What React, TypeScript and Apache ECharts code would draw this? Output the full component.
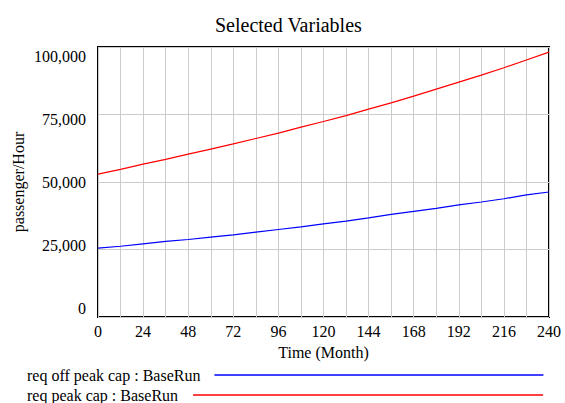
import React, { useEffect, useRef } from "react";
import * as echarts from "echarts";

const months = [0, 12, 24, 36, 48, 60, 72, 84, 96, 108, 120, 132, 144, 156, 168, 180, 192, 204, 216, 228, 240];
const reqOffPeakCap = [25500, 26200, 27100, 28000, 28700, 29600, 30400, 31400, 32400, 33400, 34500, 35500, 36700, 38000, 39100, 40200, 41500, 42600, 43800, 45200, 46300];
const reqPeakCap = [52900, 54700, 56600, 58400, 60300, 62200, 64100, 66100, 68100, 70300, 72400, 74600, 77000, 79300, 81800, 84400, 87000, 89600, 92300, 95200, 98100];
const yTickValues = [0, 25000, 50000, 75000, 100000];
const seriesNames = ["req off peak cap : BaseRun", "req peak cap : BaseRun"];

const FONT = "Liberation Serif, Times New Roman, serif";

export default function App() {
  const ref = useRef<HTMLDivElement>(null);
  useEffect(() => {
    if (!ref.current) return;
    const chart = echarts.init(ref.current, null, { renderer: "svg" });
    const fmt = (v: number) => v.toLocaleString("en-US");
    chart.setOption({
      animation: false,
      backgroundColor: "#fff",
      textStyle: { fontFamily: FONT, color: "#000" },
      title: {
        text: "Selected Variables",
        left: 210,
        top: 10,
        textStyle: { fontFamily: FONT, fontSize: 20, fontWeight: "normal", color: "#000" },
      },
      grid: {
        left: 98,
        right: 16,
        top: 47,
        bottom: 86,
        show: true,
        borderColor: "#000",
        borderWidth: 2,
        containLabel: false,
      },
      legend: [
        {
          data: [seriesNames[0]],
          left: 27,
          top: 367,
          padding: 0,
          align: "right",
          icon: "rect",
          itemWidth: 329,
          itemHeight: 1.5,
          textStyle: { fontFamily: FONT, fontSize: 16, color: "#000", padding: [0, 9, 0, 0] },
          selectedMode: false,
        },
        {
          data: [seriesNames[1]],
          left: 27,
          top: 387,
          padding: 0,
          align: "right",
          icon: "rect",
          itemWidth: 350,
          itemHeight: 1.5,
          textStyle: { fontFamily: FONT, fontSize: 16, color: "#000", padding: [0, 10, 0, 0] },
          selectedMode: false,
        },
      ],
      xAxis: {
        type: "value",
        min: 0,
        max: 240,
        interval: 12,
        name: "Time (Month)",
        nameLocation: "middle",
        nameGap: 27,
        nameTextStyle: { fontFamily: FONT, fontSize: 16, color: "#000" },
        axisLine: { show: false },
        axisTick: { show: false },
        axisLabel: {
          fontFamily: FONT,
          fontSize: 16,
          color: "#000",
          margin: 6,
          showMinLabel: true,
          showMaxLabel: true,
          formatter: (v: number) => (v % 24 === 0 ? String(v) : ""),
        },
        splitLine: { show: true, lineStyle: { color: "#cccccc", width: 1 } },
      },
      yAxis: [
        {
          type: "value",
          min: 0,
          max: 100000,
          interval: 25000,
          name: "passenger/Hour",
          nameLocation: "middle",
          nameGap: 72,
          nameRotate: 90,
          nameTextStyle: { fontFamily: FONT, fontSize: 16, color: "#000" },
          axisLine: { show: false },
          axisTick: { show: false },
          axisLabel: { show: false },
          splitLine: { show: true, lineStyle: { color: "#cccccc", width: 1 } },
        },
        {
          type: "value",
          position: "left",
          min: -3462,
          max: 103740,
          axisLine: { show: false },
          axisTick: { show: false },
          splitLine: { show: false },
          axisLabel: {
            customValues: yTickValues,
            fontFamily: FONT,
            fontSize: 16,
            color: "#000",
            margin: 12,
            formatter: (v: number) => fmt(v),
          },
        },
      ],
      series: [
        {
          name: seriesNames[0],
          type: "line",
          data: months.map((m, i) => [m, reqOffPeakCap[i]]),
          showSymbol: false,
          lineStyle: { color: "#0000ff", width: 1.2 },
          itemStyle: { color: "#0000ff" },
        },
        {
          name: seriesNames[1],
          type: "line",
          data: months.map((m, i) => [m, reqPeakCap[i]]),
          showSymbol: false,
          lineStyle: { color: "#ff0000", width: 1.2 },
          itemStyle: { color: "#ff0000" },
        },
      ],
    });
    return () => chart.dispose();
  }, []);
  return <div ref={ref} style={{ width: 565, height: 403, position: "absolute", left: 0, top: 0 }} />;
}
